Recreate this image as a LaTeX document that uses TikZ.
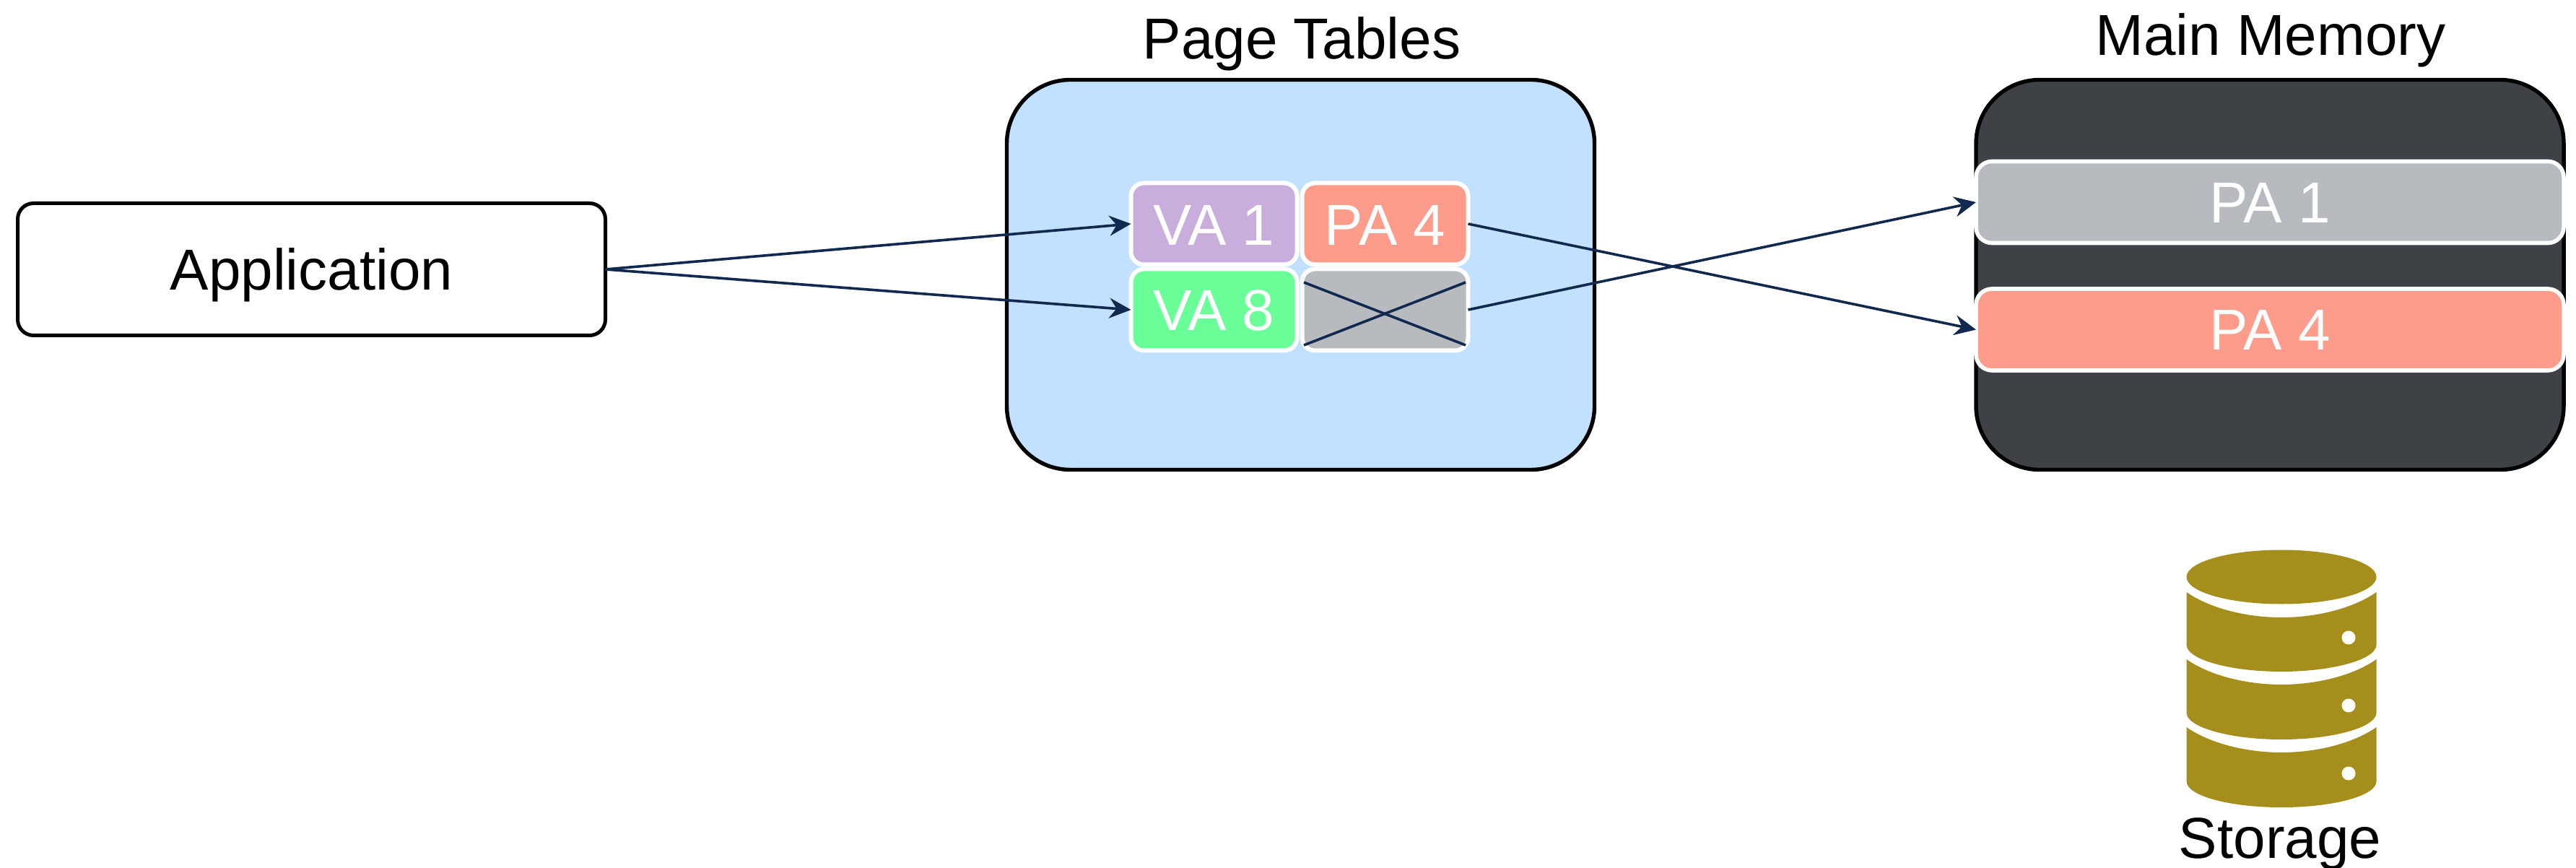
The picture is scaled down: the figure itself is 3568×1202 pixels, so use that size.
\documentclass[tikz,border=0pt]{standalone}
\usepackage{fontspec}
\setmainfont{Liberation Sans}
\usetikzlibrary{arrows.meta}
\definecolor{linkc}{HTML}{12294F}
\definecolor{vaone}{HTML}{C9ADDC}
\definecolor{salmon}{HTML}{FE9C8B}
\definecolor{vaeight}{HTML}{6BFF9A}
\definecolor{greyc}{HTML}{B7BABE}
\definecolor{paleblue}{HTML}{C2E0FF}
\definecolor{darkc}{HTML}{3E4145}
\definecolor{goldc}{HTML}{A68E1C}
\newcommand{\lowered}[2][14.5pt]{\raisebox{-#1}[0pt][0pt]{#2}}
\tikzset{
  txt/.style={font=\fontsize{40pt}{48pt}\selectfont},
  title/.style={txt,text=black,anchor=base,inner sep=0pt,outer sep=0pt},
  bigbox/.style={draw=black,line width=2.7pt,rounded corners=44pt,minimum width=407pt,minimum height=270pt,inner sep=0pt,outer sep=0pt},
  appbox/.style={txt,draw=black,fill=white,line width=2.5pt,rounded corners=11pt,minimum width=407pt,minimum height=91.5pt,inner sep=0pt,outer sep=0pt},
  cell/.style={txt,draw=white,text=white,line width=3pt,rounded corners=9pt,minimum width=115pt,minimum height=56.5pt,inner sep=0pt,outer sep=0pt},
  row/.style={txt,draw=white,text=white,line width=2.8pt,rounded corners=11pt,minimum width=407pt,minimum height=56.5pt,inner sep=0pt,outer sep=0pt},
  link/.style={draw=linkc,line width=1.8pt,-{Stealth[length=15pt,width=14pt,inset=5pt]}},
  crossline/.style={draw=linkc,line width=1.8pt},
  gold/.style={fill=goldc,draw=none}
}
\begin{document}
\begin{tikzpicture}[x=0.5pt,y=-0.5pt]
\useasboundingbox (0,0) rectangle (3568,1202);
\node[appbox] (app) at (431.5,373) {\lowered{Application}};
\node[bigbox,fill=paleblue] (pt) at (1801.5,380.5) {};
\node[bigbox,fill=darkc] (mm) at (3144,380.5) {};
\node[title] (pttitle) at (1803,82) {Page Tables};
\node[title] (mmtitle) at (3145,77) {Main Memory};
\node[cell,fill=vaone] (va1) at (1681.5,310) {\lowered[15pt]{VA 1}};
\node[cell,fill=salmon] (pa4) at (1918.5,310) {\lowered[15pt]{PA 4}};
\node[cell,fill=vaeight] (va8) at (1681.5,429) {\lowered{VA 8}};
\node[cell,fill=greyc] (gr) at (1918.5,429) {};
\node[row,fill=greyc] (mpa1) at (3144,280) {\lowered{PA 1}};
\node[row,fill=salmon] (mpa4) at (3144,456.5) {\lowered[14.25pt]{PA 4}};
\coordinate (xa) at (1806,391);
\coordinate (xb) at (2030,478);
\coordinate (xc) at (1806,478);
\coordinate (xd) at (2030,391);
\draw[crossline] (xa) -- (xb);
\draw[crossline] (xc) -- (xd);
\draw[link] (app.east) -- (va1.west);
\draw[link] (app.east) -- (va8.west);
\draw[link] (pa4.east) -- (mpa4.west);
\draw[link] (gr.east) -- (mpa1.west);
% storage cylinder
\fill[gold] (3160,799) ellipse [x radius=131.5,y radius=37.5];
\foreach \top/\side/\low in {820/893/930,913/987/1024,1007/1082/1118}{
  \pgfmathsetmacro{\mid}{\top+35}
  \fill[gold] (3028.5,\top) .. controls (3060,{\top+22}) and (3110,\mid) .. (3160,\mid)
     .. controls (3210,\mid) and (3260,{\top+22}) .. (3291.5,\top)
     -- (3291.5,\side) .. controls (3291.5,{\side+20}) and (3232,\low) .. (3160,\low)
     .. controls (3088,\low) and (3028.5,{\side+20}) .. (3028.5,\side) -- cycle;
}
\foreach \y in {883,977,1071}{\fill[white] (3253,\y) circle [radius=9.5];}
\node[title] (st) at (3158,1188) {Storage};
\end{tikzpicture}
\end{document}
